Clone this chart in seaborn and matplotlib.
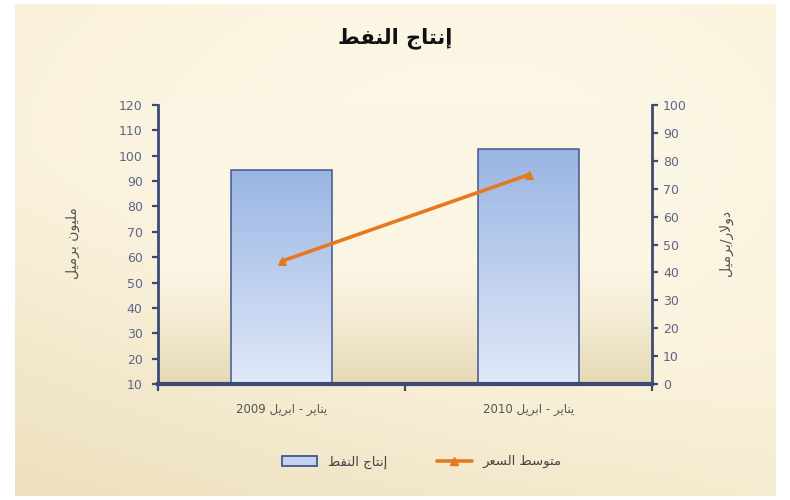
import re
import numpy as np
import pandas as pd
import matplotlib
matplotlib.use("Agg")
import matplotlib.pyplot as plt
import seaborn as sns
from matplotlib.patches import Patch
from matplotlib.lines import Line2D

# ---------------- data ----------------
categories = ["يناير - ابريل 2009", "يناير - ابريل 2010"]
production = [94.5, 102.5]    # مليون برميل (left axis)
avg_price = [44, 75]          # دولار/برميل (right axis)
left_ticks = list(range(10, 121, 10))
right_ticks = list(range(0, 101, 10))
title_text = "إنتاج النفط"
left_label = "مليون برميل"
right_label = "دولار/برميل"
bar_name = "إنتاج النفط"
line_name = "متوسط السعر"

# ------------- Arabic shaping (contextual forms + RTL order) -------------
_F = {
    '\u0627': ('\uFE8D', '\uFE8E', None, None),
    '\u0625': ('\uFE87', '\uFE88', None, None),
    '\u0628': ('\uFE8F', '\uFE90', '\uFE91', '\uFE92'),
    '\u062A': ('\uFE95', '\uFE96', '\uFE97', '\uFE98'),
    '\u062C': ('\uFE9D', '\uFE9E', '\uFE9F', '\uFEA0'),
    '\u062F': ('\uFEA9', '\uFEAA', None, None),
    '\u0631': ('\uFEAD', '\uFEAE', None, None),
    '\u0633': ('\uFEB1', '\uFEB2', '\uFEB3', '\uFEB4'),
    '\u0637': ('\uFEC1', '\uFEC2', '\uFEC3', '\uFEC4'),
    '\u0639': ('\uFEC9', '\uFECA', '\uFECB', '\uFECC'),
    '\u0641': ('\uFED1', '\uFED2', '\uFED3', '\uFED4'),
    '\u0644': ('\uFEDD', '\uFEDE', '\uFEDF', '\uFEE0'),
    '\u0645': ('\uFEE1', '\uFEE2', '\uFEE3', '\uFEE4'),
    '\u0646': ('\uFEE5', '\uFEE6', '\uFEE7', '\uFEE8'),
    '\u0648': ('\uFEED', '\uFEEE', None, None),
    '\u064A': ('\uFEF1', '\uFEF2', '\uFEF3', '\uFEF4'),
}
_LA = {'\u0627': ('\uFEFB', '\uFEFC'), '\u0625': ('\uFEF9', '\uFEFA')}


def shape(s):
    items = []
    i = 0
    while i < len(s):
        c = s[i]
        if c == '\u0644' and i + 1 < len(s) and s[i + 1] in _LA:
            items.append(('LA', s[i + 1]))
            i += 2
        else:
            items.append(c)
            i += 1

    def joins_next(it):
        if isinstance(it, tuple):
            return False
        f = _F.get(it)
        return f is not None and f[2] is not None

    def is_ar(it):
        return isinstance(it, tuple) or it in _F

    out = []
    for k, it in enumerate(items):
        prev = items[k - 1] if k > 0 else None
        nxt = items[k + 1] if k + 1 < len(items) else None
        jp = prev is not None and joins_next(prev)
        if isinstance(it, tuple):
            out.append(_LA[it[1]][1 if jp else 0])
            continue
        if it not in _F:
            out.append(it)
            continue
        iso, fin, ini, med = _F[it]
        jn = ini is not None and nxt is not None and is_ar(nxt)
        if jp and jn:
            out.append(med)
        elif jp:
            out.append(fin)
        elif jn:
            out.append(ini)
        else:
            out.append(iso)
    shaped = ''.join(out)
    tokens = re.findall(r'[0-9]+|[^0-9]+', shaped)
    return ''.join(t if t.isdigit() else t[::-1] for t in reversed(tokens))


# ---------------- style ----------------
sns.set_theme(style="white")
plt.rcParams['font.family'] = ['DejaVu Sans']

AXC = '#3d4a74'
TICKC = '#5d6688'
BAR_EDGE = '#44558c'
LINE_C = '#e8781f'

fig = plt.figure(figsize=(7.9, 5.0), dpi=100)
fig.patch.set_facecolor('white')

# figure background gradient (chart area)
bg = fig.add_axes([15 / 790, 4 / 500, 761 / 790, 492 / 500], zorder=-10)
H, W = 250, 400
yy, xx = np.mgrid[0:1:H * 1j, 0:1:W * 1j]
base = np.array([0.975, 0.94, 0.84])
light = np.array([0.993, 0.972, 0.915])
dark = np.array([0.925, 0.875, 0.745])
r = np.sqrt(((xx - 0.6) / 0.75) ** 2 + ((yy - 0.3) / 0.7) ** 2)
wl = np.clip(1 - r, 0, 1) ** 0.8
wd = np.clip((yy - 0.5) * 1.3 + (0.5 - xx) * 0.6, 0, 1) ** 1.3
img = base[None, None, :] * (1 - wl[..., None]) + light[None, None, :] * wl[..., None]
img = img * (1 - wd[..., None]) + dark[None, None, :] * wd[..., None]
bg.imshow(np.clip(img, 0, 1), extent=[0, 1, 0, 1], aspect='auto', origin='upper')
bg.axis('off')

rect = [158 / 790, 116 / 500, 494 / 790, 279 / 500]

# plot-area gradient
pa = fig.add_axes(rect, zorder=-5)
t = np.linspace(0, 1, 200)[:, None]   # 0 top -> 1 bottom
top_c = np.array([0.988, 0.962, 0.895])
bot_c = np.array([0.90, 0.85, 0.71])
w = np.clip((t - 0.55) / 0.45, 0, 1) ** 1.4
pimg = top_c[None, :] * (1 - w) + bot_c[None, :] * w
pimg = np.repeat(pimg[:, None, :], 10, axis=1)
pa.imshow(pimg, extent=[0, 1, 0, 1], aspect='auto', origin='upper')
pa.axis('off')

ax = fig.add_axes(rect)
ax.set_facecolor('none')

df = pd.DataFrame({
    'period': [shape(c) for c in categories],
    'production': production,
    'price': avg_price,
})

sns.barplot(data=df, x='period', y='production', ax=ax, width=0.406,
            color='#b8c8ec', edgecolor=BAR_EDGE, linewidth=1.1, saturation=1)

ax.set_xlim(-0.5, 1.5)
ax.set_ylim(10, 120)

# gradient fill in bars
grad = np.linspace(0, 1, 100)[:, None]
c_top = np.array([0.60, 0.71, 0.89])
c_bot = np.array([0.88, 0.91, 0.975])
gimg = c_top[None, :] * (1 - grad) + c_bot[None, :] * grad
gimg = np.repeat(gimg[:, None, :], 4, axis=1)
for p in list(ax.patches):
    x0, y0 = p.get_x(), p.get_y()
    wdt, hgt = p.get_width(), p.get_height()
    p.set_facecolor('none')
    p.set_zorder(3)
    im = ax.imshow(gimg, extent=[x0, x0 + wdt, 10, y0 + hgt], aspect='auto',
                   origin='upper', zorder=2)
    im.set_clip_path(p)
ax.set_xlim(-0.5, 1.5)
ax.set_ylim(10, 120)
ax.set_aspect('auto')

ax.set_yticks(left_ticks)
ax.set_xticks([0, 1])
ax.set_xticklabels(df['period'])
ax.set_xticks([-0.5, 0.5, 1.5], minor=True)
ax.tick_params(axis='y', which='major', direction='out', length=4, width=1.6,
               color=AXC, labelsize=9, labelcolor=TICKC, pad=7, left=True)
ax.tick_params(axis='x', which='major', length=0, labelsize=8.5,
               labelcolor='#555555', pad=14)
ax.tick_params(axis='x', which='minor', direction='out', length=5, width=1.6,
               color=AXC, bottom=True)
for s in ['top', 'right']:
    ax.spines[s].set_visible(False)
ax.spines['left'].set_color(AXC)
ax.spines['left'].set_linewidth(2.0)
ax.spines['bottom'].set_color(AXC)
ax.spines['bottom'].set_linewidth(3.0)
ax.spines['bottom'].set_zorder(5)
ax.set_xlabel('')
ax.set_ylabel(shape(left_label), fontsize=10, color='#555555', rotation=90)
ax.yaxis.set_label_coords(-0.158, 0.505)
ax.grid(False)

# secondary axis with the line
ax2 = ax.twinx()
sns.lineplot(x=np.arange(len(categories)), y=avg_price, ax=ax2, color=LINE_C,
             linewidth=2.6, marker='^', markersize=6, markeredgecolor=LINE_C,
             markerfacecolor=LINE_C)
if ax2.get_legend() is not None:
    ax2.get_legend().remove()
ax2.set_ylim(0, 100)
ax2.set_xlim(-0.5, 1.5)
ax2.set_yticks(right_ticks)
ax2.tick_params(axis='y', direction='out', length=4, width=1.6, color=AXC,
                labelsize=9, labelcolor=TICKC, pad=4, right=True)
for s in ['top', 'left', 'bottom']:
    ax2.spines[s].set_visible(False)
ax2.spines['right'].set_color(AXC)
ax2.spines['right'].set_linewidth(2.0)
ax2.set_ylabel(shape(right_label), fontsize=10, color='#555555', rotation=90)
ax2.yaxis.set_label_coords(1.136, 0.505)
ax2.grid(False)

# title
fig.text(0.5, 1 - 38 / 500, shape(title_text), ha='center', va='center',
         fontsize=15, fontweight='bold', color='#111111')

# legend
handles = [
    Patch(facecolor='#c3d1f0', edgecolor=BAR_EDGE, linewidth=1.3),
    Line2D([0], [0], color=LINE_C, linewidth=2.6, marker='^', markersize=6),
]
fig.legend(handles, [shape(bar_name), shape(line_name)], loc='center',
           bbox_to_anchor=(0.534, 1 - 462 / 500), ncol=2, frameon=False,
           fontsize=9.5, handlelength=2.65, handleheight=0.75,
           handletextpad=0.8, columnspacing=3.8, labelcolor='#444444')

fig.savefig('out.png', dpi=100, facecolor=fig.get_facecolor())
